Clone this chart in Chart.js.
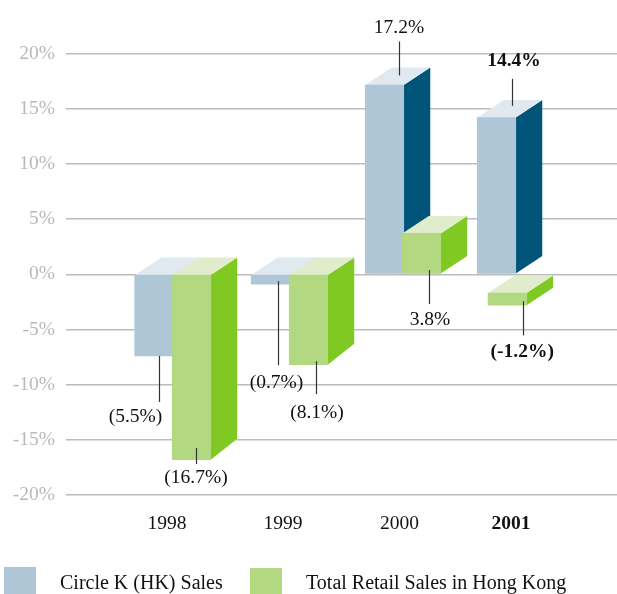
<!DOCTYPE html>
<html><head><meta charset="utf-8">
<style>html,body{margin:0;padding:0;background:#fff}canvas{display:block}</style>
<script src="https://cdn.jsdelivr.net/npm/chart.js@4"></script></head>
<body><canvas id="c" width="617" height="594"></canvas>
<script>
const years = [1998, 1999, 2000, 2001];
const seriesNames = ['Circle K (HK) Sales', 'Total Retail Sales in Hong Kong'];
const circleK = [-7.4, -0.9, 17.15, 14.2];
const retailEnd = [-16.8, -8.2, 3.7, -2.8];
const retailStart = [0, 0, 0, -1.7];
const circleKLabels = ['(5.5%)', '(0.7%)', '17.2%', '14.4%'];
const retailLabels = ['(16.7%)', '(8.1%)', '3.8%', '(-1.2%)'];
const boldYear = 2001;

const FONT = '"Liberation Serif"';
const colors = [
  {front:'#aec6d6', side:'#00547a', top:'#e1e9f0'},
  {front:'#b2d982', side:'#80c822', top:'#e0eccb'}
];
// layout tweaks, in pixels, relative to each bar
const nudge = [[-13,-11.5,-12.5,-15.5],[24.5,26.5,24.5,-4.7]];
const tickNudge = [0,1,2.5,-1];
const leaders = [
  [[5,0,46,-18.5,61],[8,-3,81,6,99],[15,-9.5,-43.5,14.5,-57],[15.5,-11.7,-38.7,17.5,-56.7]],
  [[4.5,-11.7,4.3,4.5,18.3],[8,-3.7,29.3,8.5,48.3],[7.5,36.7,70.7,8.5,86.7],[15.3,-4,30.3,15,47.3]]
];
const DX = 26.5, DY = 17.5;

const bars3d = {
  id:'bars3d',
  afterDatasetsUpdate(chart){
    chart.data.datasets.forEach((d,di)=>{
      chart.getDatasetMeta(di).data.forEach((el,i)=>{ el.x += nudge[di][i]; });
    });
  },
  beforeDatasetDraw(chart,args){
    const di = args.index, c = colors[di], ctx = chart.ctx;
    chart.getDatasetMeta(di).data.forEach(el=>{
      const p = el.getProps(['x','y','base','width']);
      const l = p.x-p.width/2, r = p.x+p.width/2;
      const top = Math.min(p.y,p.base), bot = Math.max(p.y,p.base);
      const dyBot = (bot-top) > 80 && p.y > p.base ? 21 : DY;
      ctx.save();
      ctx.fillStyle = c.side;
      ctx.beginPath();ctx.moveTo(r,top);ctx.lineTo(r+DX,top-DY);ctx.lineTo(r+DX,bot-dyBot);ctx.lineTo(r,bot);ctx.closePath();ctx.fill();
      ctx.fillStyle = c.top;
      ctx.beginPath();ctx.moveTo(l,top);ctx.lineTo(l+DX,top-DY);ctx.lineTo(r+DX,top-DY);ctx.lineTo(r,top);ctx.closePath();ctx.fill();
      ctx.restore();
    });
  },
  beforeDraw(chart){
    const xs = chart.scales.x;
    xs.getLabelItems().forEach((it,i)=>{
      it.options.translation[0] = xs.getPixelForValue(years[i]) + tickNudge[i];
    });
  },
  afterDraw(chart){
    const ctx = chart.ctx;
    ctx.save();
    [circleKLabels,retailLabels].forEach((texts,di)=>{
      chart.getDatasetMeta(di).data.forEach((el,i)=>{
        const [dx,y1,y2,ldx,ly] = leaders[di][i];
        const p = el.getProps(['x','y']);
        ctx.strokeStyle = '#333'; ctx.lineWidth = 1.2;
        ctx.beginPath();
        ctx.moveTo(Math.round(p.x+dx)+.5,p.y+y1);ctx.lineTo(Math.round(p.x+dx)+.5,p.y+y2);ctx.stroke();
        ctx.fillStyle = '#111';
        ctx.font = (years[i]===boldYear?'bold ':'')+'19.5px '+FONT;
        ctx.textAlign='center';ctx.textBaseline='middle';
        ctx.fillText(texts[i],p.x+ldx,p.y+ly);
      });
    });
    // legend
    const swatches = [[4,567,32,27],[250,568,32,26]], textX = [60,306];
    seriesNames.forEach((n,i)=>{
      ctx.fillStyle = colors[i].front;
      ctx.fillRect(...swatches[i]);
      ctx.fillStyle = '#111';ctx.font='20px '+FONT;ctx.textAlign='left';ctx.textBaseline='middle';
      ctx.fillText(n,textX[i],584);
    });
    ctx.restore();
  }
};

new Chart(document.getElementById('c'),{
  type:'bar',
  data:{datasets:[
    {label:seriesNames[0],order:2,backgroundColor:colors[0].front,
     data:years.map((y,i)=>({x:y,y:circleK[i]}))},
    {label:seriesNames[1],order:1,backgroundColor:colors[1].front,
     data:years.map((y,i)=>({x:y,y:[retailStart[i],retailEnd[i]]}))}
  ]},
  options:{
    responsive:false,animation:false,devicePixelRatio:1,
    layout:{padding:{top:53.5,left:0,right:0,bottom:0}},
    datasets:{bar:{grouped:false,barThickness:38.5,borderWidth:0}},
    plugins:{legend:{display:false},tooltip:{enabled:false}},
    scales:{
      x:{type:'linear',offset:false,min:1997.122,max:2001.913,
        grid:{display:false},border:{display:false},
        afterBuildTicks(s){s.ticks=years.map(v=>({value:v}));},
        afterFit(s){s.height=99;},
        ticks:{padding:9,maxRotation:0,autoSkip:false,color:'#111',
          callback:v=>String(v),
          font:c=>({family:FONT,size:19.5,weight:c.tick&&c.tick.value===boldYear?'bold':'normal'})}},
      y:{min:-20,max:20,
        grid:{color:'#bcbcbc',lineWidth:1.5,drawTicks:false},border:{display:false},
        afterFit(s){s.width=66;},
        ticks:{stepSize:5,padding:11,color:'#b9b9b9',font:{family:FONT,size:19.5},callback:v=>v+'%'}}
    }
  },
  plugins:[bars3d]
});
</script></body></html>
